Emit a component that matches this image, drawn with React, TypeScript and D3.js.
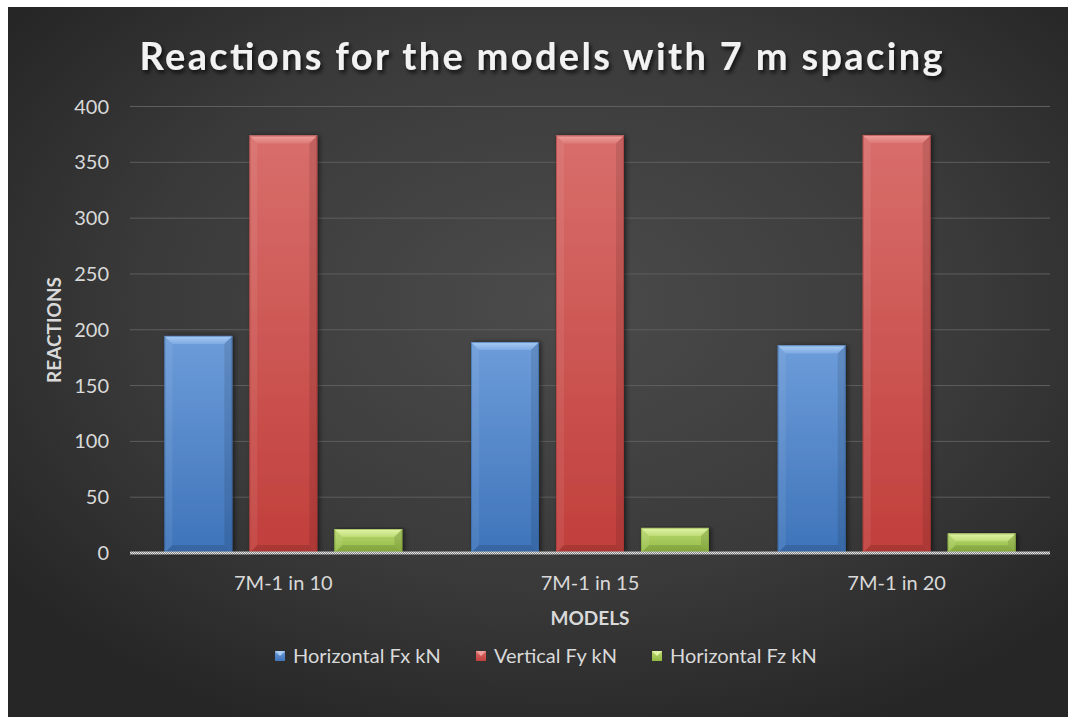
import React from "react";
import * as d3 from "d3";

const categories = ["7M-1 in 10", "7M-1 in 15", "7M-1 in 20"];
const seriesNames = ["Horizontal Fx kN", "Vertical Fy kN", "Horizontal Fz kN"];
const fxValues = [194.5, 189, 186];
const fyValues = [374, 374, 374.5];
const fzValues = [21.5, 22.5, 17.5];
const yTicks = [0, 50, 100, 150, 200, 250, 300, 350, 400];

const seriesValues = [fxValues, fyValues, fzValues];

const palette = [
  { id: "b", top: "#6d9cd9", bot: "#3e74ba", bevel: "#a9cdf4", bevel2: "#7eaae3", edge: "#2f5f9e" },
  { id: "r", top: "#d86e6b", bot: "#c13f3c", bevel: "#f0a09c", bevel2: "#dc7a76", edge: "#9b302e" },
  { id: "g", top: "#b9d871", bot: "#93bb43", bevel: "#e2f5a6", bevel2: "#bedc78", edge: "#789c33" },
];

const W = 1068;
const H = 717;
const left = 130;
const right = 1050;
const top = 106.5;
const bottom = 553;

export default function App() {
  const x0 = d3.scaleBand<string>().domain(categories).range([left, right]).paddingInner(0.224).paddingOuter(0.112);
  const x1 = d3.scaleBand<number>().domain([0, 1, 2]).range([0, x0.bandwidth()]).paddingInner(0.2);
  const y = d3.scaleLinear().domain([0, 400]).range([bottom, top]);

  const bar = (ci: number, si: number) => {
    const v = seriesValues[si][ci];
    const p = palette[si];
    const x = (x0(categories[ci]) as number) + (x1(si) as number);
    const w = x1.bandwidth();
    const yt = y(v);
    const h = bottom - yt;
    const b = Math.min(8, h / 2.5);
    return (
      <g key={`${ci}-${si}`}>
        <rect x={x} y={yt} width={w} height={h} fill={`url(#grad-${p.id})`} filter="url(#barShadow)" />
        <polygon
          points={`${x},${yt} ${x + w},${yt} ${x + w - b},${yt + b} ${x + b},${yt + b}`}
          fill={`url(#bev-${p.id})`}
        />
        <polygon
          points={`${x},${yt} ${x + b},${yt + b} ${x + b},${bottom - b} ${x},${bottom}`}
          fill="rgba(255,255,255,0.07)"
        />
        <polygon
          points={`${x + w},${yt} ${x + w - b},${yt + b} ${x + w - b},${bottom - b} ${x + w},${bottom}`}
          fill="rgba(0,0,0,0.10)"
        />
        <polygon
          points={`${x},${bottom} ${x + b},${bottom - b} ${x + w - b},${bottom - b} ${x + w},${bottom}`}
          fill="rgba(0,0,0,0.12)"
        />
        <rect x={x + 0.5} y={yt + 0.5} width={w - 1} height={h - 1} fill="none" stroke={p.edge} strokeOpacity={0.5} />
      </g>
    );
  };

  const legendItems = [
    { mx: 275, tx: 293 },
    { mx: 476, tx: 494 },
    { mx: 652, tx: 670 },
  ];
  const legendY = 656;

  return (
    <>
      <style>{"html,body{margin:0;padding:0;overflow:hidden;background:#fff}"}</style>
      <svg width={W} height={H} style={{ position: "absolute", left: 0, top: 0, display: "block" }} fontFamily="Lato, 'Open Sans', sans-serif">
        <defs>
          <radialGradient id="bg" cx="52%" cy="42%" r="65%">
            <stop offset="0%" stopColor="#4b4b4b" />
            <stop offset="60%" stopColor="#3a3a3a" />
            <stop offset="100%" stopColor="#262626" />
          </radialGradient>
          {palette.map((p) => (
            <linearGradient key={p.id} id={`grad-${p.id}`} x1="0" y1="0" x2="0" y2="1">
              <stop offset="0%" stopColor={p.top} />
              <stop offset="100%" stopColor={p.bot} />
            </linearGradient>
          ))}
          {palette.map((p) => (
            <linearGradient key={p.id + "bv"} id={`bev-${p.id}`} x1="0" y1="0" x2="0" y2="1">
              <stop offset="0%" stopColor={p.bevel} />
              <stop offset="100%" stopColor={p.bevel2} />
            </linearGradient>
          ))}
          <filter id="barShadow" x="-20%" y="-5%" width="140%" height="110%">
            <feDropShadow dx="2" dy="0" stdDeviation="2.5" floodColor="#000" floodOpacity="0.55" />
          </filter>
          <filter id="titleShadow" x="-5%" y="-30%" width="110%" height="160%">
            <feDropShadow dx="2" dy="3" stdDeviation="2" floodColor="#000" floodOpacity="0.75" />
          </filter>
          <pattern id="axisPat" width="2" height="2" patternUnits="userSpaceOnUse">
            <rect width="2" height="2" fill="#8c8c8c" />
            <rect width="1" height="1" fill="#e0e0e0" />
            <rect x="1" y="1" width="1" height="1" fill="#e0e0e0" />
          </pattern>
        </defs>

        <rect x={0} y={0} width={W} height={H} fill="#ffffff" />
        <rect x={8} y={7} width={W - 8} height={H - 7} fill="url(#bg)" />

        <text
          x={541}
          y={70}
          textAnchor="middle"
          fontSize={38}
          fontWeight={700}
          fill="#f2f2f2"
          textLength={803}
          lengthAdjust="spacing"
          filter="url(#titleShadow)"
        >
          Reactions for the models with 7 m spacing
        </text>

        {yTicks.map((t) =>
          t === 0 ? null : (
            <line key={t} x1={left} x2={right} y1={y(t)} y2={y(t)} stroke="#5e5e5e" strokeWidth={1} />
          )
        )}
        {yTicks.map((t) => (
          <text key={"l" + t} x={109} y={y(t)} dy="0.35em" textAnchor="end" fontSize={20} fill="#d9d9d9">
            {t}
          </text>
        ))}

        {categories.map((_, ci) => [0, 1, 2].map((si) => bar(ci, si)))}

        <rect x={left} y={bottom - 1.5} width={right - left} height={3} fill="url(#axisPat)" />

        {categories.map((c) => (
          <text
            key={c}
            x={(x0(c) as number) + x0.bandwidth() / 2}
            y={590}
            textAnchor="middle"
            fontSize={20}
            fill="#d9d9d9"
          >
            {c}
          </text>
        ))}

        <text x={590} y={625} textAnchor="middle" fontSize={19} fontWeight={700} fill="#d9d9d9">
          MODELS
        </text>
        <text
          transform={`translate(61,330) rotate(-90)`}
          textAnchor="middle"
          fontSize={19}
          fontWeight={700}
          fill="#d9d9d9"
        >
          REACTIONS
        </text>

        {seriesNames.map((n, i) => {
          const p = palette[i];
          const it = legendItems[i];
          const s = 10;
          const my = legendY - s / 2;
          return (
            <g key={n}>
              <rect x={it.mx} y={my} width={s} height={s} fill={`url(#grad-${p.id})`} />
              <polygon
                points={`${it.mx},${my} ${it.mx + s},${my} ${it.mx + s / 2},${my + s / 2}`}
                fill={p.bevel}
              />
              <text x={it.tx} y={legendY} dy="0.35em" fontSize={20} fill="#d9d9d9">
                {n}
              </text>
            </g>
          );
        })}
      </svg>
    </>
  );
}
